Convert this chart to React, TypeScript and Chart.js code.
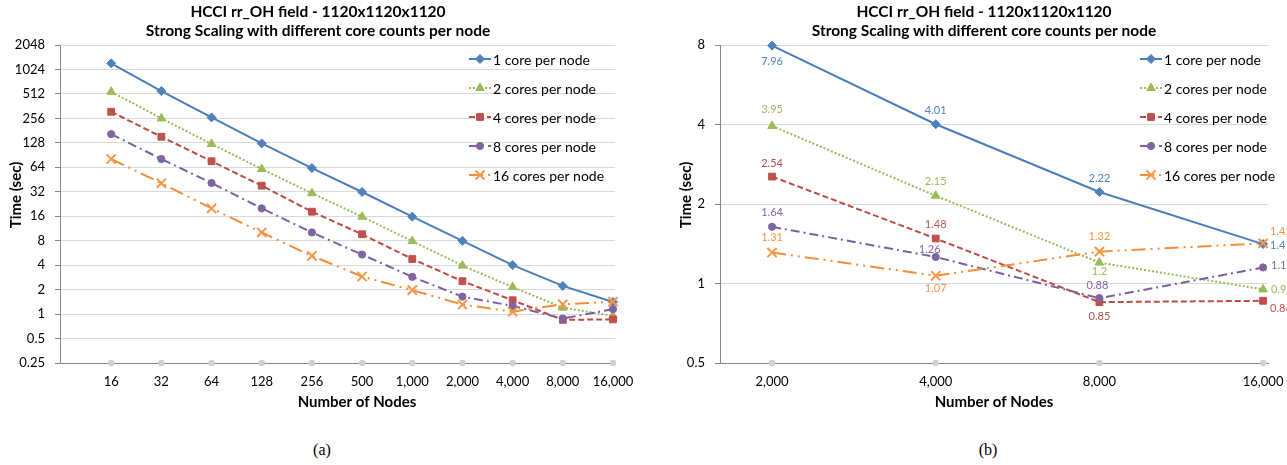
import React, { useEffect, useRef } from 'react';
import { Chart, registerables } from 'chart.js';
import { drawPoint } from 'chart.js/helpers';

Chart.register(...registerables);

// ---- data -------------------------------------------------------------
const nodeLabels = ['16', '32', '64', '128', '256', '500', '1,000', '2,000', '4,000', '8,000', '16,000'];

const time1Core = [1218, 556, 263, 126, 62.7, 31.8, 15.8, 7.96, 4.01, 2.22, 1.41];
const time2Cores = [545, 256, 124, 61, 30.7, 15.8, 7.9, 3.95, 2.15, 1.2, 0.95];
const time4Cores = [309, 152, 76, 38, 18.2, 9.6, 4.76, 2.54, 1.48, 0.85, 0.86];
const time8Cores = [164, 81, 41, 20, 10.1, 5.4, 2.87, 1.64, 1.26, 0.88, 1.15];
const time16Cores = [81, 40.8, 20, 10.1, 5.2, 2.9, 1.97, 1.31, 1.07, 1.32, 1.42];

const seriesNames = ['1 core per node', '2 cores per node', '4 cores per node', '8 cores per node', '16 cores per node'];

// light grey markers sitting on the category axis
const axisMarksA = [0.25, 0.25, 0.25, 0.25, 0.25, 0.25, 0.25, 0.25, 0.25, 0.25, 0.25];
const axisMarksB = [0.5, 0.5, 0.5, 0.5];

const yTicksA = [0.25, 0.5, 1, 2, 4, 8, 16, 32, 64, 128, 256, 512, 1024, 2048];
const yTicksB = [0.5, 1, 2, 4, 8];

// panel (b) zooms in on the last four node counts
const zoomStart = 7;

const titleLines = ['HCCI rr_OH field - 1120x1120x1120', 'Strong Scaling with different core counts per node'];
const xTitle = 'Number of Nodes';
const yTitle = 'Time (sec)';

// ---- styles -----------------------------------------------------------
const FONT = 'Lato, "Open Sans", sans-serif';
const CANVAS_H = 420;
const PLOT_TOP = 45;
const PLOT_BOTTOM = 363;

const seriesStyles = [
  { line: '#4a7ebb', fill: '#4f81bd', marker: 'rectRot', radius: 4.5, dash: [] as number[], label: '#4f81bd' },
  { line: '#98b954', fill: '#9bbb59', marker: 'triangle', radius: 5, dash: [2, 2], label: '#9bbb59' },
  { line: '#be4b48', fill: '#c0504d', marker: 'rect', radius: 4.8, dash: [6, 3], label: '#c0504d' },
  { line: '#7d60a0', fill: '#8064a2', marker: 'circle', radius: 3.6, dash: [9, 4, 2, 4], label: '#8064a2' },
  { line: '#f68c36', fill: '#f79646', marker: 'crossRot', radius: 6.5, dash: [14, 5, 2, 5, 2, 5], label: '#f79646' },
];

// value label placement for panel (b): [dx, dy, align]
type Place = [number, number, CanvasTextAlign];
const labelPlacesB: Place[][] = [
  [[0, 16, 'center'], [0, -14, 'center'], [0, -14, 'center'], [7, 1, 'left']],
  [[0, -16, 'center'], [0, -14, 'center'], [0, 9, 'center'], [8, 0, 'left']],
  [[0, -13, 'center'], [0, -14, 'center'], [0, 14, 'center'], [7, 8, 'left']],
  [[0, -14, 'center'], [-6, -8, 'center'], [-2, -13, 'center'], [8, -2, 'left']],
  [[0, -15, 'center'], [0, 13, 'center'], [0, -15, 'center'], [7, -12, 'left']],
];

const allSeries = [time1Core, time2Cores, time4Cores, time8Cores, time16Cores];

interface Decor {
  titleX: number;
  xTitleX: number;
  yTitleX: number;
  yTitleY: number;
  legendX: number;
  valueLabels: boolean;
}

function makeDecorPlugin(d: Decor) {
  return {
    id: 'decor',
    afterDraw(chart: any) {
      const ctx: CanvasRenderingContext2D = chart.ctx;
      ctx.save();
      ctx.fillStyle = '#000';
      ctx.textBaseline = 'middle';
      ctx.textAlign = 'center';
      ctx.font = `bold 15.5px ${FONT}`;
      ctx.fillText(titleLines[0], d.titleX, 12);
      ctx.fillText(titleLines[1], d.titleX, 31);

      ctx.font = `bold 15px ${FONT}`;
      ctx.fillText(xTitle, d.xTitleX, 402);
      ctx.save();
      ctx.translate(d.yTitleX, d.yTitleY);
      ctx.rotate(-Math.PI / 2);
      ctx.fillText(yTitle, 0, 0);
      ctx.restore();

      // legend laid over the plot area
      ctx.font = `14px ${FONT}`;
      ctx.textAlign = 'left';
      seriesNames.forEach((name, i) => {
        const st = seriesStyles[i];
        const y = 59 + i * 29;
        ctx.save();
        ctx.strokeStyle = st.line;
        ctx.lineWidth = 2;
        ctx.setLineDash(st.dash);
        ctx.beginPath();
        ctx.moveTo(d.legendX, y);
        ctx.lineTo(d.legendX + 22, y);
        ctx.stroke();
        ctx.restore();
        ctx.save();
        ctx.fillStyle = st.fill;
        ctx.strokeStyle = st.fill;
        ctx.lineWidth = st.marker === 'crossRot' ? 2 : 1;
        drawPoint(ctx, { pointStyle: st.marker, radius: st.radius, rotation: 0, borderWidth: ctx.lineWidth } as any, d.legendX + 11, y);
        ctx.restore();
        ctx.fillStyle = '#000';
        ctx.fillText(name, d.legendX + 24, y + 1);
      });

      if (d.valueLabels) {
        ctx.font = `11px ${FONT}`;
        allSeries.forEach((_, si) => {
          const meta = chart.getDatasetMeta(si);
          const vals = allSeries[si].slice(zoomStart);
          ctx.fillStyle = seriesStyles[si].label;
          meta.data.forEach((pt: any, pi: number) => {
            const [dx, dy, align] = labelPlacesB[si][pi];
            ctx.textAlign = align;
            ctx.fillText(String(vals[pi]), pt.x + dx, pt.y + dy);
          });
        });
      }
      ctx.restore();
    },
  };
}

function buildDatasets(values: number[][], offset: number, marks: number[]) {
  const sets: any[] = values.map((vals, si) => {
    const st = seriesStyles[si];
    return {
      label: seriesNames[si],
      data: vals.map((v, i) => ({ x: i + offset, y: v })),
      borderColor: st.line,
      backgroundColor: st.fill,
      borderWidth: 2,
      borderDash: st.dash,
      pointStyle: st.marker,
      pointRadius: st.radius,
      pointBorderWidth: st.marker === 'crossRot' ? 2 : 1,
      pointBackgroundColor: st.fill,
      pointBorderColor: st.fill,
      tension: 0,
      clip: false,
      order: 5 - si,
    };
  });
  sets.push({
    label: 'axis',
    data: marks.map((v, i) => ({ x: i + offset, y: v })),
    showLine: false,
    pointRadius: 3.2,
    pointBackgroundColor: '#d0d0d0',
    pointBorderColor: '#d0d0d0',
    borderWidth: 0,
    clip: false,
    order: 10,
  });
  return sets;
}

function makeOptions(cfg: {
  xMin: number; xMax: number; xTicks: number[]; xLabel: (v: number) => string;
  yMin: number; yMax: number; yTicks: number[]; yWidth: number; padRight: number;
}) {
  return {
    responsive: false,
    animation: false as const,
    devicePixelRatio: 1,
    events: [],
    layout: { padding: { top: PLOT_TOP, right: cfg.padRight, left: 0, bottom: 0 } },
    plugins: { legend: { display: false }, tooltip: { enabled: false }, title: { display: false } },
    scales: {
      x: {
        type: 'linear' as const,
        min: cfg.xMin,
        max: cfg.xMax,
        afterBuildTicks: (s: any) => { s.ticks = cfg.xTicks.map((v) => ({ value: v })); },
        afterFit: (s: any) => { s.height = CANVAS_H - PLOT_BOTTOM; s.paddingLeft = 0; s.paddingRight = 0; },
        grid: { display: false, drawTicks: false },
        border: { display: true, color: '#868686', width: 1 },
        ticks: {
          callback: (v: number) => cfg.xLabel(v),
          padding: 11,
          color: '#000',
          autoSkip: false,
          maxRotation: 0,
          font: { family: FONT, size: 13 },
        },
      },
      y: {
        type: 'logarithmic' as const,
        min: cfg.yMin,
        max: cfg.yMax,
        afterBuildTicks: (s: any) => { s.ticks = cfg.yTicks.map((v) => ({ value: v })); },
        afterFit: (s: any) => { s.width = cfg.yWidth; s.paddingTop = 0; s.paddingBottom = 0; },
        grid: { color: '#d9d9d9', lineWidth: 1, drawTicks: true, tickLength: 5, tickColor: '#868686' },
        border: { display: true, color: '#868686', width: 1 },
        ticks: {
          callback: (v: number) => String(v),
          padding: 10,
          color: '#000',
          autoSkip: false,
          font: { family: FONT, size: 13 },
        },
      },
    },
  };
}

function ScalingPanel(props: { which: 'a' | 'b'; width: number }) {
  const ref = useRef<HTMLCanvasElement>(null);
  useEffect(() => {
    if (!ref.current) return;
    const isA = props.which === 'a';
    const seriesVals = isA ? allSeries : allSeries.map((s) => s.slice(zoomStart));
    const labels = isA ? nodeLabels : nodeLabels.slice(zoomStart);
    const chart = new Chart(ref.current, {
      type: 'line',
      data: { datasets: buildDatasets(seriesVals, isA ? 1 : 0, isA ? axisMarksA : axisMarksB) },
      options: makeOptions(isA
        ? {
            xMin: -0.02, xMax: 11.04, xTicks: labels.map((_, i) => i + 1), xLabel: (v) => labels[v - 1] ?? '',
            yMin: 0.25, yMax: 2048, yTicks: yTicksA, yWidth: 60, padRight: 25,
          }
        : {
            xMin: -0.318, xMax: 3.03, xTicks: labels.map((_, i) => i), xLabel: (v) => labels[v] ?? '',
            yMin: 0.5, yMax: 8, yTicks: yTicksB, yWidth: 80, padRight: 19,
          }) as any,
      plugins: [makeDecorPlugin(isA
        ? { titleX: 318, xTitleX: 357, yTitleX: 16, yTitleY: 195, legendX: 469, valueLabels: false }
        : { titleX: 344, xTitleX: 354, yTitleX: 46, yTitleY: 195, legendX: 500, valueLabels: true })],
    });
    return () => chart.destroy();
  }, [props.which]);
  return <canvas ref={ref} width={props.width} height={CANVAS_H} style={{ display: 'block', width: props.width, height: CANVAS_H }} />;
}

export default function App() {
  return (
    <div style={{ position: 'absolute', left: 0, top: 0, width: 1287, height: 465, background: '#fff', overflow: 'hidden' }}>
      <div style={{ position: 'absolute', left: 0, top: 0 }}>
        <ScalingPanel which="a" width={640} />
      </div>
      <div style={{ position: 'absolute', left: 640, top: 0 }}>
        <ScalingPanel which="b" width={647} />
      </div>
      <div style={{ position: 'absolute', left: 302, top: 441, width: 40, textAlign: 'center', font: '16px "Liberation Serif", "Times New Roman", serif' }}>(a)</div>
      <div style={{ position: 'absolute', left: 968, top: 441, width: 40, textAlign: 'center', font: '16px "Liberation Serif", "Times New Roman", serif' }}>(b)</div>
    </div>
  );
}
